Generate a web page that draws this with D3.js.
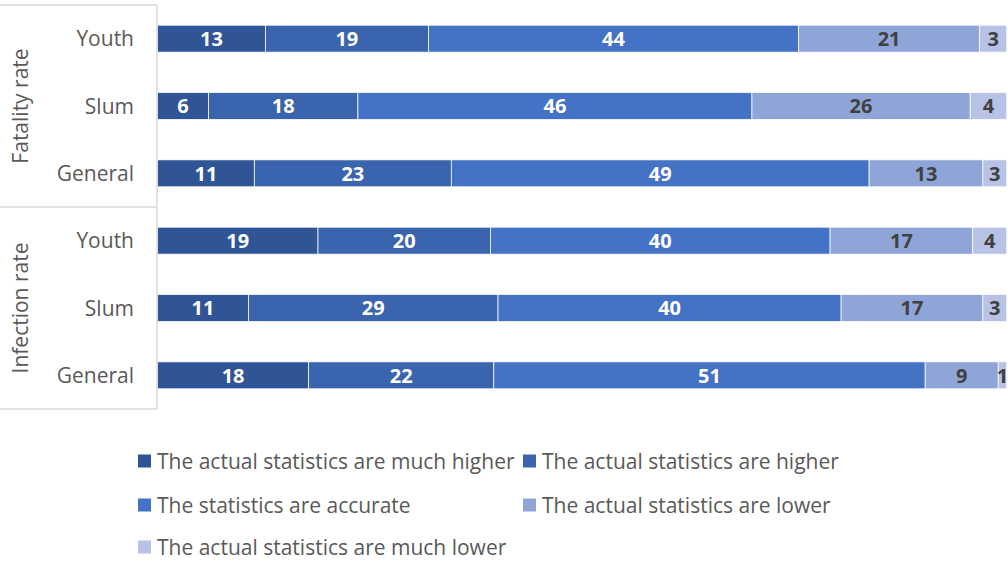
<!DOCTYPE html>
<html><head><meta charset="utf-8">
<script src="https://cdn.jsdelivr.net/npm/d3@7"></script>
<style>body{margin:0;background:#fff}svg{display:block;font-family:"Open Sans",sans-serif}</style>
</head><body><svg id="c" width="1008" height="561"></svg>
<script>
const groups = ["Fatality rate", "Infection rate"];
const categories = ["Youth", "Slum", "General"];
const seriesNames = ["The actual statistics are much higher", "The actual statistics are higher", "The statistics are accurate", "The actual statistics are lower", "The actual statistics are much lower"];
const colors = ["#2F5597", "#3A64AE", "#4472C4", "#8FA5D7", "#B7C2E6"];
const labelColors = ["#ffffff", "#ffffff", "#ffffff", "#404040", "#404040"];
// percentages (labels show rounded values); rows top to bottom:
// Fatality Youth, Slum, General, Infection Youth, Slum, General
const muchHigher = [12.7, 6.0, 11.4, 18.9, 10.7, 17.8];
const higher = [19.2, 17.6, 23.2, 20.3, 29.4, 21.8];
const accurate = [43.6, 46.4, 49.2, 40.0, 40.4, 50.8];
const lower = [21.3, 25.7, 13.4, 16.8, 16.7, 8.6];
const muchLower = [3.2, 4.3, 2.8, 4.0, 2.8, 1.0];
const seriesValues = [muchHigher, higher, accurate, lower, muchLower];

const svg = d3.select("#c");
const rows = [];
groups.forEach((g, gi) => categories.forEach((c, ci) => rows.push({key: g + "|" + c, group: g, cat: c, i: gi * 3 + ci})));

const x = d3.scaleLinear().domain([0, 100]).range([157.5, 1006.7]);
const y = d3.scaleBand().domain(rows.map(r => r.key)).range([5, 409]).paddingInner(0.6).paddingOuter(0.3);

const data = rows.map(r => {
  const o = {key: r.key};
  seriesNames.forEach((s, si) => o[s] = seriesValues[si][r.i]);
  return o;
});
const stack = d3.stack().keys(seriesNames)(data);
const fmt = d3.format(".0f");

const layers = svg.append("g").selectAll("g").data(stack).join("g")
  .attr("fill", (d, i) => colors[i]);
layers.selectAll("rect").data(d => d).join("rect")
  .attr("x", d => x(d[0])).attr("width", d => x(d[1]) - x(d[0]))
  .attr("y", d => y(d.data.key)).attr("height", y.bandwidth())
  .attr("stroke", "#ffffff").attr("stroke-width", 0.75);

svg.append("g").selectAll("g").data(stack).join("g")
  .attr("fill", (d, i) => labelColors[i])
  .selectAll("text").data(d => d).join("text")
  .attr("x", d => (x(d[0]) + x(d[1])) / 2)
  .attr("y", d => y(d.data.key) + y.bandwidth() / 2)
  .attr("dy", "0.36em").attr("text-anchor", "middle")
  .attr("font-size", 20).attr("font-weight", "bold")
  .text(d => fmt(d[1] - d[0]));

// category axis
const ax = svg.append("g");
ax.selectAll("text.cat").data(rows).join("text").attr("class", "cat")
  .attr("x", 134).attr("y", r => y(r.key) + y.bandwidth() / 2)
  .attr("dy", "0.36em").attr("text-anchor", "end")
  .attr("font-size", 21).attr("fill", "#595959").text(r => r.cat);
const lineCol = "#d9d9d9";
ax.append("line").attr("x1", 157).attr("x2", 157).attr("y1", 5).attr("y2", 409).attr("stroke", lineCol).attr("stroke-width", 1.5);
const bounds = [5, 207, 409];
ax.selectAll("line.h").data(bounds).join("line").attr("class", "h")
  .attr("x1", 0).attr("x2", 157).attr("y1", d => d).attr("y2", d => d).attr("stroke", lineCol).attr("stroke-width", 1.5);
ax.selectAll("text.grp").data(groups).join("text").attr("class", "grp")
  .attr("transform", (g, i) => `translate(20,${(bounds[i] + bounds[i + 1]) / 2}) rotate(-90)`)
  .attr("dy", "0.36em").attr("text-anchor", "middle")
  .attr("font-size", 21).attr("fill", "#595959").text(g => g);

// legend
const legPos = [[138, 461], [523, 461], [138, 505], [523, 505], [138, 547]];
const leg = svg.append("g").selectAll("g").data(seriesNames).join("g")
  .attr("transform", (d, i) => `translate(${legPos[i][0]},${legPos[i][1]})`);
leg.append("rect").attr("x", 0).attr("y", -6.5).attr("width", 13).attr("height", 13).attr("fill", (d, i) => colors[i]);
leg.append("text").attr("x", 19).attr("dy", "0.36em").attr("font-size", 21).attr("fill", "#595959").text(d => d);
</script></body></html>
